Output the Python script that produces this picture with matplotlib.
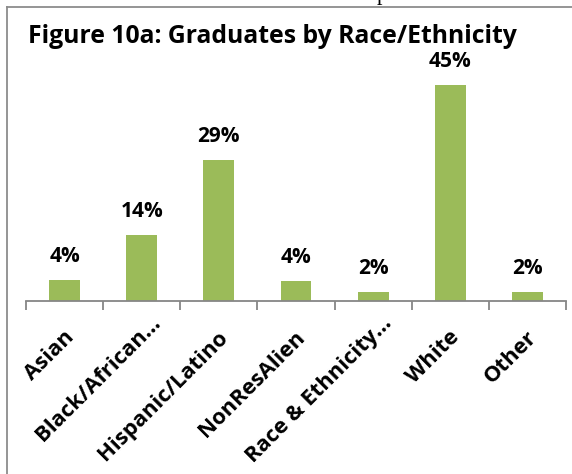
import matplotlib
matplotlib.use("Agg")
import matplotlib.pyplot as plt
from matplotlib.lines import Line2D
from matplotlib.transforms import blended_transform_factory, ScaledTranslation

categories = ["Asian", "Black/African…", "Hispanic/Latino", "NonResAlien",
              "Race & Ethnicity…", "White", "Other"]
values = [4.4, 13.8, 29.4, 4.2, 1.8, 45.0, 1.8]
labels = ["4%", "14%", "29%", "4%", "2%", "45%", "2%"]
title = "Figure 10a: Graduates by Race/Ethnicity"

W, H = 572, 474
fig = plt.figure(figsize=(W / 100, H / 100), dpi=100)
FONT = ["Open Sans", "DejaVu Sans"]

def fx(px):
    return px / W

def fy(py):
    return 1 - py / H

ax_top, ax_bot, ax_l, ax_r = 61, 301, 26, 566
ax = fig.add_axes([fx(ax_l), fy(ax_bot), fx(ax_r) - fx(ax_l), (ax_bot - ax_top) / H])
ymax = (ax_bot - ax_top) / 4.8

xs = [i + 0.5 for i in range(len(categories))]
ax.bar(xs, values, width=0.4, color="#9BBB59", edgecolor="none")
ax.set_xlim(0, len(categories))
ax.set_ylim(0, ymax)

for x, v, lab in zip(xs, values, labels):
    ax.annotate(lab, (x, v), xytext=(0, 13), textcoords="offset points",
                ha="center", va="baseline", fontsize=15, fontweight="bold",
                family=FONT, color="black")

for s in ["top", "right", "left"]:
    ax.spines[s].set_visible(False)
ax.spines["bottom"].set_color("#868686")
ax.spines["bottom"].set_linewidth(1.3)
ax.set_yticks([])
ax.set_xticks(range(len(categories) + 1))
ax.set_xticklabels([])
ax.tick_params(axis="x", which="major", length=6.5, width=1.3, color="#868686")

# category labels: rotated 45°, anchored at the end of their baseline
base = blended_transform_factory(ax.transData, ax.transAxes)
for x, cat in zip(xs, categories):
    dx, dy = 10, -37            # pixels from tick centre / axis line
    if cat.endswith("…"):
        dx, dy = 20, -23
    tr = base + ScaledTranslation(dx / 100, dy / 100, fig.dpi_scale_trans)
    ax.text(x, 0, cat, transform=tr, rotation=45, rotation_mode="anchor",
            ha="right", va="baseline", fontsize=15.8, fontweight="bold",
            family=FONT, color="black", clip_on=False)

t = fig.text(fx(28), fy(43), title, fontsize=16, fontweight="bold", family=FONT,
             ha="left", va="baseline", color="black")
# fit the title to its width in the reference
r = fig.canvas.get_renderer()
wpx = t.get_window_extent(r).width
t.set_fontsize(16 * 490 / wpx)

# frame fragments (top and left border of the chart area)
fig.add_artist(Line2D([fx(7), 1], [fy(7), fy(7)], color="#8c8c8c", lw=1.3))
fig.add_artist(Line2D([fx(7), fx(7)], [fy(7), 0], color="#8c8c8c", lw=1.3))
# clipped glyph above the frame
fig.text(fx(377), 1.0, "p", fontsize=16, family=["Liberation Serif"],
         ha="left", va="baseline", color="black")

fig.savefig("out.png", dpi=100)
